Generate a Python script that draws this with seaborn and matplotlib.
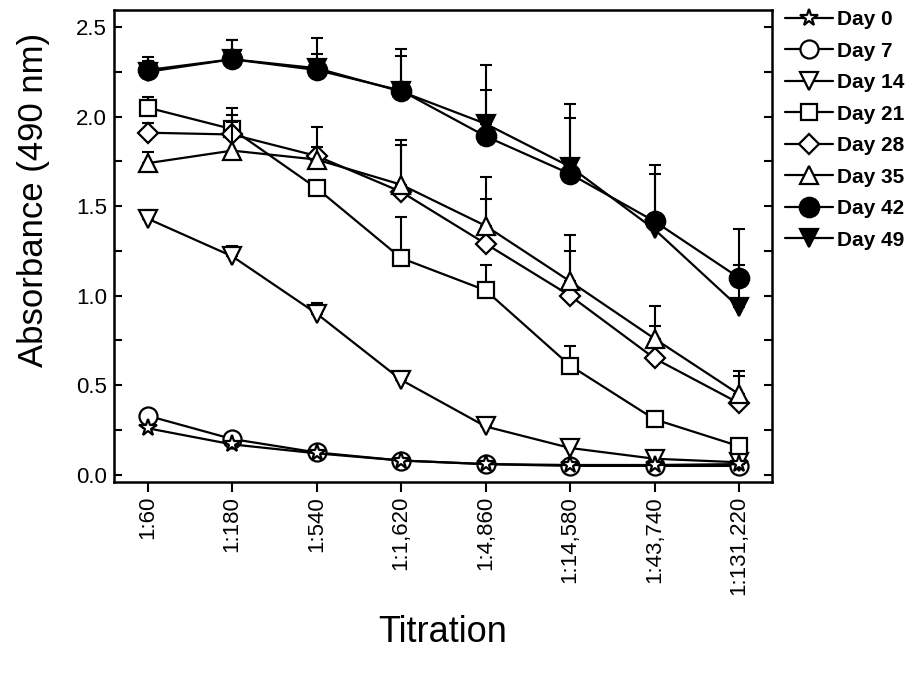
import numpy as np
import pandas as pd
import matplotlib
matplotlib.use("Agg")
import matplotlib.pyplot as plt
from matplotlib.ticker import MultipleLocator
import seaborn as sns

# Titration points and absorbance readings (490 nm) per day
titrations = ['1:60', '1:180', '1:540', '1:1,620', '1:4,860', '1:14,580', '1:43,740', '1:131,220']
days = ['Day 0', 'Day 7', 'Day 14', 'Day 21', 'Day 28', 'Day 35', 'Day 42', 'Day 49']

day0 = [0.26, 0.17, 0.12, 0.08, 0.06, 0.055, 0.055, 0.06]
day7 = [0.33, 0.20, 0.125, 0.08, 0.06, 0.05, 0.05, 0.05]
day14 = [1.43, 1.22, 0.90, 0.53, 0.27, 0.15, 0.09, 0.07]
day21 = [2.05, 1.93, 1.60, 1.21, 1.03, 0.61, 0.31, 0.16]
day28 = [1.91, 1.90, 1.78, 1.58, 1.29, 1.00, 0.65, 0.40]
day35 = [1.74, 1.81, 1.76, 1.62, 1.39, 1.08, 0.76, 0.45]
day42 = [2.26, 2.32, 2.26, 2.145, 1.89, 1.68, 1.415, 1.10]
day49 = [2.25, 2.32, 2.27, 2.14, 1.96, 1.72, 1.37, 0.935]

# upper error (SD) for each day
err0 = [0.0] * 8
err7 = [0.0] * 8
err14 = [0.05, 0.06, 0.06, 0.03, 0.01, 0.01, 0.01, 0.01]
err21 = [0.06, 0.12, 0.03, 0.23, 0.14, 0.11, 0.04, 0.01]
err28 = [0.055, 0.11, 0.05, 0.26, 0.25, 0.25, 0.18, 0.15]
err35 = [0.06, 0.16, 0.18, 0.25, 0.27, 0.26, 0.18, 0.13]
err42 = [0.07, 0.11, 0.09, 0.235, 0.26, 0.31, 0.315, 0.275]
err49 = [0.06, 0.11, 0.17, 0.20, 0.33, 0.35, 0.31, 0.235]

values = [day0, day7, day14, day21, day28, day35, day42, day49]
errors = [err0, err7, err14, err21, err28, err35, err42, err49]

markers = ['*', 'o', 'v', 's', 'D', '^', 'o', 'v']
faces = ['white'] * 6 + ['black', 'black']
msizes = [13, 13, 13, 12, 10, 13, 14, 13]

sns.set_style("ticks")
plt.rcParams['font.family'] = ['Liberation Sans', 'DejaVu Sans']
for key in ['text.color', 'axes.labelcolor', 'xtick.color', 'ytick.color']:
    plt.rcParams[key] = 'black'

fig = plt.figure(figsize=(9.22, 6.75), dpi=100)
ax = fig.add_axes([0.1236, 0.2859, 0.7137, 0.6993])

pos = np.arange(len(titrations))
for i, day in enumerate(days):
    df = pd.DataFrame({'pos': pos, 'absorbance': values[i]})
    # Day 0 stars sit on top of the Day 7 circles in the original
    z = 3.5 if i == 0 else 2 + i * 0.1
    ax.errorbar(pos, values[i], yerr=[np.zeros(8), errors[i]], fmt='none',
                ecolor='black', elinewidth=1.5, capsize=4.5, capthick=1.5,
                zorder=z)
    sns.lineplot(data=df, x='pos', y='absorbance', ax=ax, color='black',
                 marker=markers[i], markersize=msizes[i],
                 markerfacecolor=faces[i], markeredgecolor='black',
                 markeredgewidth=1.6, linewidth=1.6, label=day,
                 errorbar=None, zorder=z + 0.05)

ax.set_xlim(-0.40, 7.39)
ax.set_xticks(pos)
ax.set_xticklabels(titrations, rotation=90, fontsize=16)
ax.yaxis.set_minor_locator(MultipleLocator(0.25))
ax.set_yticks(np.arange(0, 2.51, 0.5))
ax.set_yticklabels([f'{v:.1f}' for v in np.arange(0, 2.51, 0.5)], fontsize=16)
ax.set_ylim(-0.04, 2.595)

ax.tick_params(axis='x', direction='out', length=7, width=1.5, pad=3)
ax.tick_params(axis='y', which='both', direction='in', length=6, width=1.5,
               left=True, right=True, pad=5)
for s in ax.spines.values():
    s.set_linewidth(1.8)
    s.set_color('black')

ax.set_xlabel('Titration', fontsize=26, labelpad=14)
ax.set_ylabel('Absorbance (490 nm)', fontsize=25)
ax.yaxis.set_label_coords(-0.097, 0.597)

ax.legend(loc='upper left', bbox_to_anchor=(0.851, 0.985),
          bbox_transform=fig.transFigure, frameon=False,
          prop={'weight': 'bold', 'size': 15}, handlelength=2.3,
          handletextpad=0.2, labelspacing=0.6, borderpad=0, borderaxespad=0)

fig.savefig('out.png', dpi=100)
